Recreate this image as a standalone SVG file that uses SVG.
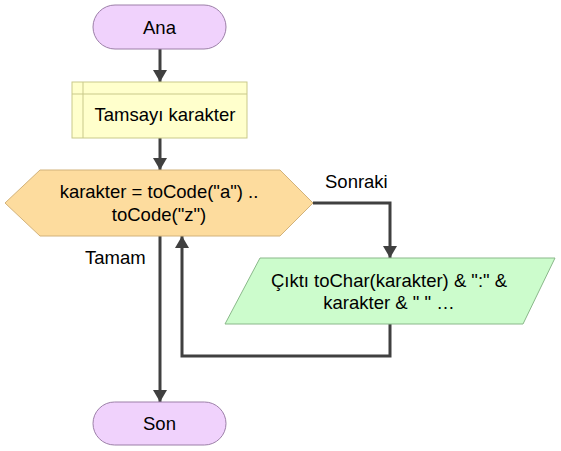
<svg xmlns="http://www.w3.org/2000/svg" width="561" height="451" viewBox="0 0 561 451">
<style>
text{font-family:"Liberation Sans",Arial,sans-serif;font-size:18.5px;fill:#000;text-anchor:middle}
.term{fill:#f0d2fc;stroke:#9c7fa8;stroke-width:1}
.decl{fill:#ffffcc;stroke:#c9c98a;stroke-width:1}
.loop{fill:#fddc9e;stroke:#d2b27a;stroke-width:1}
.io{fill:#ccfccc;stroke:#8ab88a;stroke-width:1}
.ln{fill:none;stroke:#404040;stroke-width:3}
.lbl{text-anchor:start}
</style>
<defs>
<marker id="a" viewBox="0 0 12 14" refX="12" refY="7" markerWidth="12" markerHeight="14" markerUnits="userSpaceOnUse" orient="auto">
<path d="M0,0 L12,7 L0,14 z" fill="#404040"/>
</marker>
</defs>
<g id="connectors">
<path class="ln" d="M160,49 V82" marker-end="url(#a)"/>
<path class="ln" d="M160,138 V170" marker-end="url(#a)"/>
<path class="ln" d="M313,203 H390 V258" marker-end="url(#a)"/>
<path class="ln" d="M390,324 V356 H182 V236" marker-end="url(#a)"/>
<path class="ln" d="M160,236 V402" marker-end="url(#a)"/>
<text class="lbl" x="325" y="188">Sonraki</text>
<text class="lbl" x="85" y="264">Tamam</text>
</g>
<g id="ana">
<rect class="term" x="93" y="5" width="133" height="44" rx="22"/>
<text x="159.5" y="34">Ana</text>
</g>
<g id="decl">
<rect class="decl" x="72" y="82" width="175" height="56"/>
<path d="M72,94 H247 M83,82 V138" fill="none" stroke="#c9c98a" stroke-width="1"/>
<text x="165" y="121">Tamsayı karakter</text>
</g>
<g id="for">
<polygon class="loop" points="5,203 40,170 280,170 313,203 280,236 40,236"/>
<text x="159" y="198">karakter = toCode("a") ..</text>
<text x="159" y="221">toCode("z")</text>
</g>
<g id="output">
<polygon class="io" points="260,258 555,258 523,324 225,324"/>
<text x="389" y="287">Çıktı toChar(karakter) &amp; ":" &amp;</text>
<text x="389" y="309">karakter &amp; " " …</text>
</g>
<g id="son">
<rect class="term" x="93" y="402" width="133" height="43" rx="21.5"/>
<text x="159.5" y="430">Son</text>
</g>
</svg>
